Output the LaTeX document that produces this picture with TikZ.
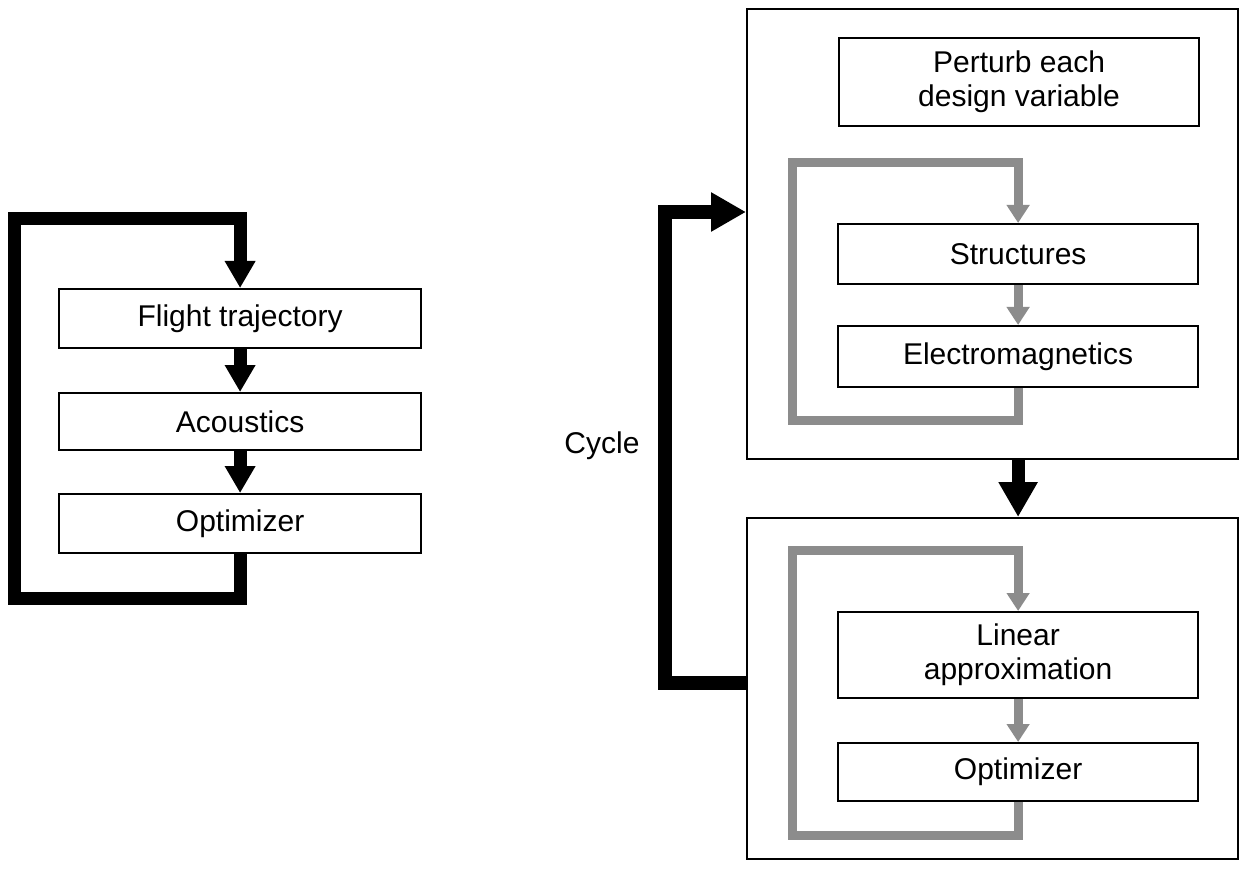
\documentclass[tikz,border=0pt]{standalone}
\usepackage{fontspec}
\setmainfont{Liberation Sans}
\usetikzlibrary{arrows.meta}
\tikzset{
  lbl/.style={font=\fontsize{30}{34}\selectfont, align=center, inner sep=0pt},
  stagebox/.style={lbl, draw, line width=2.2pt, anchor=north west},
  outerbox/.style={draw, line width=2pt, anchor=north west, inner sep=0pt},
  bigarrow/.style={draw, line width=13pt, line join=miter, -{Triangle[width=29pt,length=27pt]}},
  fatarrow/.style={draw, line width=13pt, line join=miter, -{Triangle[width=37pt,length=35pt]}},
  grayarrow/.style={draw=black!45, line width=9pt, line join=miter, -{Triangle[width=22pt,length=18pt]}},
}
\begin{document}
\begin{tikzpicture}[x=1pt,y=-1pt]
\useasboundingbox[fill=white] (0,0) rectangle (1243,869);

% ---------- left chain ----------
\node[stagebox, minimum width=362pt, minimum height=59pt] (fl) at (58,288) {Flight trajectory};
\node[stagebox, minimum width=362pt, minimum height=57pt] (ac) at (58,392) {Acoustics};
\node[stagebox, minimum width=362pt, minimum height=59pt] (op) at (58,493) {Optimizer};

\draw[bigarrow] (fl.south) -- (ac.north);
\draw[bigarrow] (ac.south) -- (op.north);

\coordinate (lb) at (14,598);
\coordinate (lt) at (14,219);
\draw[bigarrow] (op.south) -- (op.south |- lb) -- (lb) -- (lt) -- (fl.north |- lt) -- (fl.north);

% ---------- right: outer boxes ----------
\node[outerbox, minimum width=491pt, minimum height=450pt] (o1) at (746,8) {};
\node[outerbox, minimum width=491pt, minimum height=341pt] (o2) at (746,517) {};

\node[stagebox, minimum width=360pt, minimum height=88pt] (pt) at (838,37) {Perturb each\\design variable};
\node[stagebox, minimum width=360pt, minimum height=60pt] (st) at (837,223) {Structures};
\node[stagebox, minimum width=360pt, minimum height=61pt] (em) at (837,325) {Electromagnetics};

\node[stagebox, minimum width=360pt, minimum height=86pt] (li) at (837,611) {Linear\\approximation};
\node[stagebox, minimum width=360pt, minimum height=58pt] (op2) at (837,742) {Optimizer};

% gray inner loops
\coordinate (g1b) at (792,420);
\coordinate (g1t) at (792,163);
\draw[grayarrow] (em.south) -- (em.south |- g1b) -- (g1b) -- (g1t) -- (st.north |- g1t) -- (st.north);
\draw[grayarrow] (st.south) -- (em.north);

\coordinate (g2b) at (792,835);
\coordinate (g2t) at (792,550);
\draw[grayarrow] (op2.south) -- (op2.south |- g2b) -- (g2b) -- (g2t) -- (li.north |- g2t) -- (li.north);
\draw[grayarrow] (li.south) -- (op2.north);

% black arrow between outer boxes
\draw[fatarrow] (o1.south -| st.south) -- (o2.north -| st.south);

% cycle loop
\coordinate (cb) at (665,683);
\coordinate (ct) at (665,212);
\draw[fatarrow, line width=14pt] (o2.west |- cb) -- (cb) -- (ct) -- (o1.west |- ct);

\node[lbl, anchor=base] (cyc) at (602,453) {Cycle};
\end{tikzpicture}
\end{document}
